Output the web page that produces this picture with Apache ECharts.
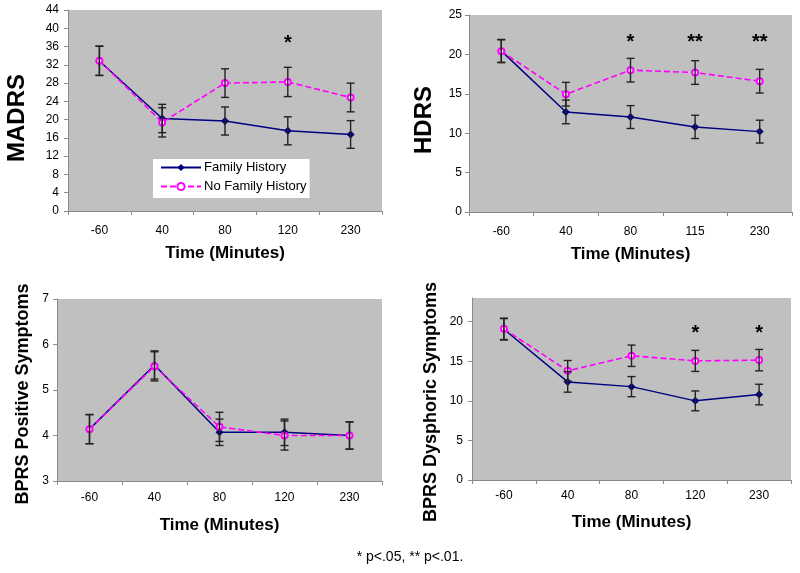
<!DOCTYPE html>
<html>
<head>
<meta charset="utf-8">
<script src="https://cdn.jsdelivr.net/npm/echarts@6/dist/echarts.min.js"></script>
<style>html,body{margin:0;padding:0;background:#fff;}#c{width:800px;height:573px;}</style>
</head>
<body>
<div id="c"></div>
<script>
// ---------- DATA ----------
const timesA = ['-60', '40', '80', '120', '230'];
const timesB = ['-60', '40', '80', '115', '230'];

// MADRS
const madrsFH = [32.85, 20.25, 19.7, 17.55, 16.75];
const madrsFHerr = [3.2, 3.1, 3.07, 3.07, 3.03];
const madrsNFH = [32.9, 19.4, 28.0, 28.25, 24.85];
const madrsNFHerr = [3.2, 3.2, 3.13, 3.2, 3.14];
const madrsStars = [[3, 36.6, '*']];

// HDRS
const hdrsFH = [20.45, 12.7, 12.05, 10.8, 10.2];
const hdrsFHerr = [1.45, 1.5, 1.45, 1.48, 1.45];
const hdrsNFH = [20.4, 14.95, 18.0, 17.7, 16.6];
const hdrsNFHerr = [1.45, 1.5, 1.5, 1.5, 1.5];
const hdrsStars = [[2, 21.5, '*'], [3, 21.5, '**'], [4, 21.5, '**']];

// BPRS Positive
const posFH = [4.14, 5.55, 4.07, 4.07, 4.0];
const posFHerr = [0.32, 0.31, 0.29, 0.29, 0.3];
const posNFH = [4.14, 5.52, 4.19, 4.0, 4.0];
const posNFHerr = [0.32, 0.32, 0.32, 0.32, 0.3];
const posStars = [];

// BPRS Dysphoric
const dysFH = [19.05, 12.4, 11.8, 10.0, 10.8];
const dysFHerr = [1.35, 1.3, 1.27, 1.25, 1.3];
const dysNFH = [19.1, 13.8, 15.7, 15.05, 15.15];
const dysNFHerr = [1.35, 1.3, 1.35, 1.33, 1.35];
const dysStars = [[3, 18.5, '*'], [4, 18.5, '*']];

const yTitles = ['MADRS', 'HDRS', 'BPRS Positive Symptoms', 'BPRS Dysphoric Symptoms'];
const xTitle = 'Time (Minutes)';
const footnote = '* p<.05, ** p<.01.';
const seriesNames = ['Family History', 'No Family History'];

// ---------- LAYOUT / STYLE ----------
const FONT = '"Liberation Sans", Arial, sans-serif';
const NAVY = '#000080';
const MAGENTA = '#FF00FF';

const panels = [
  {cats: timesA, fh: madrsFH, fhe: madrsFHerr, nfh: madrsNFH, nfhe: madrsNFHerr, stars: madrsStars,
   grid: {left: 68, top: 10, width: 314, height: 201}, y: {min: 0, max: 44, interval: 4}, xm: 14, ym: 9, ng: 34,
   yt: {x: 17, y: 118, size: 24}},
  {cats: timesB, fh: hdrsFH, fhe: hdrsFHerr, nfh: hdrsNFH, nfhe: hdrsNFHerr, stars: hdrsStars,
   grid: {left: 469, top: 15, width: 323, height: 197}, y: {min: 0, max: 25, interval: 5}, xm: 14, ym: 7, ng: 34,
   yt: {x: 424, y: 120, size: 24}},
  {cats: timesA, fh: posFH, fhe: posFHerr, nfh: posNFH, nfhe: posNFHerr, stars: posStars,
   grid: {left: 57, top: 299, width: 325, height: 182}, y: {min: 3, max: 7, interval: 1}, xm: 11, ym: 8, ng: 36,
   yt: {x: 23, y: 394, size: 18}},
  {cats: timesA, fh: dysFH, fhe: dysFHerr, nfh: dysNFH, nfhe: dysNFHerr, stars: dysStars,
   grid: {left: 472, top: 298, width: 319, height: 182}, y: {min: 0, max: 23, interval: 5}, xm: 10, ym: 9, ng: 34,
   yt: {x: 431, y: 402, size: 18}}
];

const grids = [], xAxes = [], yAxes = [], series = [], graphics = [];

function errRender(params, api) {
  const x = api.value(0), lo = api.value(1), hi = api.value(2);
  const pt = api.coord([x, hi]);
  const pb = api.coord([x, lo]);
  const w = 4;
  const st = {stroke: '#222', lineWidth: 1.4};
  return {type: 'group', children: [
    {type: 'line', shape: {x1: pt[0], y1: pt[1], x2: pb[0], y2: pb[1]}, style: st},
    {type: 'line', shape: {x1: pt[0] - w, y1: pt[1], x2: pt[0] + w, y2: pt[1]}, style: st},
    {type: 'line', shape: {x1: pb[0] - w, y1: pb[1], x2: pb[0] + w, y2: pb[1]}, style: st}
  ]};
}

panels.forEach((p, i) => {
  grids.push(Object.assign({show: true, backgroundColor: '#C0C0C0', borderWidth: 0, containLabel: false}, p.grid));
  xAxes.push({
    type: 'category', gridIndex: i, data: p.cats, boundaryGap: true,
    name: xTitle, nameLocation: 'middle', nameGap: p.ng,
    nameTextStyle: {fontFamily: FONT, fontWeight: 'bold', fontSize: 17, color: '#000'},
    axisLine: {show: true, lineStyle: {color: '#8a8a8a', width: 1}},
    axisTick: {show: true, alignWithLabel: false, length: 4, lineStyle: {color: '#8a8a8a'}},
    axisLabel: {fontFamily: FONT, fontSize: 12, color: '#000', margin: p.xm, interval: 0},
    splitLine: {show: false}
  });
  yAxes.push({
    type: 'value', gridIndex: i, min: p.y.min, max: p.y.max, interval: p.y.interval,
    axisLine: {show: true, lineStyle: {color: '#8a8a8a', width: 1}},
    axisTick: {show: true, length: 4, lineStyle: {color: '#8a8a8a'}},
    axisLabel: {fontFamily: FONT, fontSize: 12, color: '#000', margin: p.ym, showMaxLabel: (p.y.max % p.y.interval === 0)},
    splitLine: {show: false}
  });
  series.push({
    name: seriesNames[0], type: 'line', xAxisIndex: i, yAxisIndex: i, data: p.fh,
    symbol: 'diamond', symbolSize: 8, z: 3,
    lineStyle: {color: NAVY, width: 1.5}, itemStyle: {color: NAVY}
  });
  series.push({
    name: seriesNames[1], type: 'line', xAxisIndex: i, yAxisIndex: i, data: p.nfh,
    symbol: 'emptyCircle', symbolSize: 6, z: 4,
    lineStyle: {color: MAGENTA, width: 1.6, type: [6, 3]}, itemStyle: {color: MAGENTA, borderWidth: 1.5}
  });
  const errData = [];
  p.fh.forEach((v, k) => errData.push([k, v - p.fhe[k], v + p.fhe[k]]));
  p.nfh.forEach((v, k) => errData.push([k, v - p.nfhe[k], v + p.nfhe[k]]));
  series.push({
    type: 'custom', xAxisIndex: i, yAxisIndex: i, data: errData, z: 5,
    encode: {x: 0, y: [1, 2]}, renderItem: errRender, silent: true
  });
  if (p.stars.length) {
    const stars = p.stars;
    series.push({
      type: 'custom', xAxisIndex: i, yAxisIndex: i, z: 6, silent: true,
      data: stars.map(s => [s[0], s[1]]),
      encode: {x: 0, y: 1},
      renderItem: function (params, api) {
        const c = api.coord([api.value(0), api.value(1)]);
        return {type: 'text', style: {text: stars[params.dataIndex][2], x: c[0], y: c[1],
          align: 'center', verticalAlign: 'middle', font: 'bold 20px ' + FONT, fill: '#000'}};
      }
    });
  }
  graphics.push({
    type: 'text', x: p.yt.x, y: p.yt.y, rotation: Math.PI / 2,
    style: {text: yTitles[i], font: 'bold ' + p.yt.size + 'px ' + FONT, fill: '#000',
      align: 'center', verticalAlign: 'middle'}
  });
});

graphics.push({
  type: 'text', x: 410, y: 557,
  style: {text: footnote, font: '14px ' + FONT, fill: '#000', align: 'center', verticalAlign: 'middle'}
});

const chart = echarts.init(document.getElementById('c'), null, {renderer: 'canvas'});
chart.setOption({
  animation: false,
  backgroundColor: '#fff',
  grid: grids,
  xAxis: xAxes,
  yAxis: yAxes,
  series: series,
  legend: {
    data: seriesNames, left: 153, top: 159, orient: 'vertical',
    backgroundColor: '#fff', borderWidth: 0, padding: [2, 3, 5, 7],
    itemWidth: 40, itemHeight: 9, itemGap: 6,
    textStyle: {fontFamily: FONT, fontSize: 13, color: '#000', padding: [0, 0, 0, -2]}
  },
  graphic: graphics
});
</script>
</body>
</html>
